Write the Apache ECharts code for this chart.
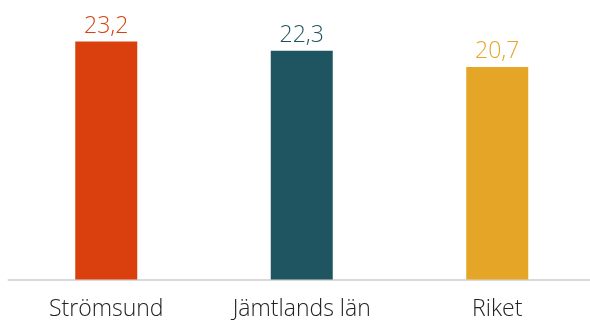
<!DOCTYPE html>
<html>
<head>
<meta charset="utf-8">
<script src="https://cdn.jsdelivr.net/npm/echarts@6/dist/echarts.min.js"></script>
<style>
  html, body { margin: 0; padding: 0; background: #fff; }
  #chart { width: 590px; height: 320px; }
</style>
</head>
<body>
<div id="chart"></div>
<script>
const categories = ['Strömsund', 'Jämtlands län', 'Riket']
const values = [23.2, 22.3, 20.7]
const colors = ['#d9400e', '#1f5560', '#e5a628']

const chart = echarts.init(document.getElementById('chart'))
chart.setOption({
  animation: false,
  grid: { left: 8.5, width: 586.5, top: 23, bottom: 40.5, outerBoundsMode: 'none' },
  xAxis: {
    type: 'category',
    data: categories,
    axisLine: { lineStyle: { color: '#d9d9d9', width: 2 } },
    axisTick: { show: false },
    axisLabel: {
      color: '#222',
      fontFamily: 'Open Sans',
      fontWeight: 300,
      fontSize: 23,
      margin: 18
    }
  },
  yAxis: {
    type: 'value',
    min: 0,
    max: 25,
    show: false
  },
  series: [
    {
      type: 'bar',
      barWidth: 62,
      data: values.map((v, i) => ({
        value: v,
        itemStyle: { color: colors[i] },
        label: { color: colors[i] }
      })),
      label: {
        show: true,
        position: 'top',
        distance: 4,
        fontFamily: 'Open Sans',
        fontWeight: 300,
        fontSize: 23,
        formatter: (p) => p.value.toFixed(1).replace('.', ',')
      }
    }
  ]
})
</script>
</body>
</html>
